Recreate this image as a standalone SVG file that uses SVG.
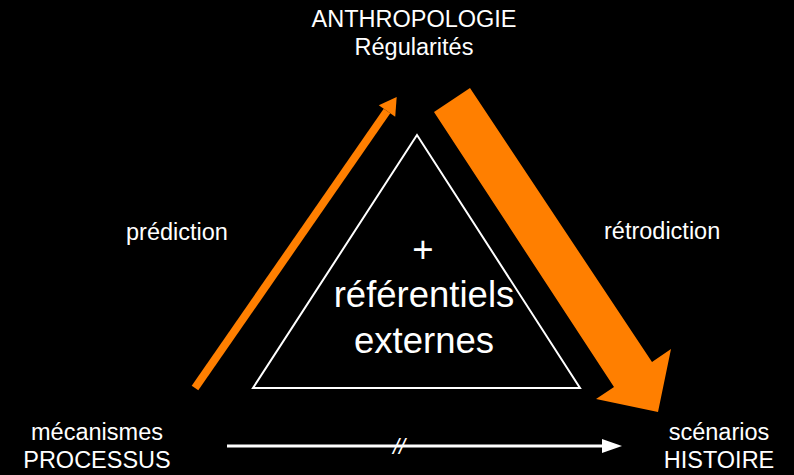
<svg xmlns="http://www.w3.org/2000/svg" width="794" height="475" viewBox="0 0 794 475">
  <style>
    text { font-family: "Liberation Sans", Arial, Helvetica, sans-serif; fill: #ffffff; text-anchor: middle; }
    .lbl { font-size: 23.5px; }
    .big { font-size: 36.5px; }
  </style>
  <defs>
    <marker id="headOrange" markerUnits="userSpaceOnUse" markerWidth="20" markerHeight="22" refX="0" refY="10" orient="auto" viewBox="0 0 20 20" overflow="visible">
      <path d="M0,0 L17,10 L0,20 Z" fill="#ff7f00"/>
    </marker>
    <marker id="headWhite" markerUnits="userSpaceOnUse" markerWidth="22" markerHeight="16" refX="0" refY="8" orient="auto" viewBox="0 0 22 16" overflow="visible">
      <path d="M0,1 L20,8 L0,15 Z" fill="#ffffff"/>
    </marker>
  </defs>
  <rect x="0" y="0" width="794" height="475" fill="#000000"/>

  <g id="node-anthropologie">
    <text class="lbl" x="414" y="27">ANTHROPOLOGIE</text>
    <text class="lbl" x="414" y="55">Régularités</text>
  </g>
  <g id="node-mecanismes">
    <text class="lbl" x="97" y="440">mécanismes</text>
    <text class="lbl" x="97" y="468">PROCESSUS</text>
  </g>
  <g id="node-scenarios">
    <text class="lbl" x="719" y="440">scénarios</text>
    <text class="lbl" x="719" y="468">HISTOIRE</text>
  </g>
  <g id="node-referentiels">
    <polygon points="417,135 253,388 580,388" fill="none" stroke="#ffffff" stroke-width="2"/>
    <text class="big" x="423" y="262">+</text>
    <text class="big" x="424" y="307">référentiels</text>
    <text class="big" x="424" y="353">externes</text>
  </g>

  <g id="connectors">
    <line x1="195" y1="388" x2="387" y2="111" stroke="#ff7f00" stroke-width="8" marker-end="url(#headOrange)"/>
    <polygon points="434,112 470,88 652,362 671,349 658,412 596,399 614,387" fill="#ff7f00"/>
    <line x1="227" y1="446" x2="602" y2="446" stroke="#ffffff" stroke-width="3" marker-end="url(#headWhite)"/>
    <text class="lbl" x="126" y="240" style="text-anchor:start">prédiction</text>
    <text class="lbl" x="604" y="239" style="text-anchor:start">rétrodiction</text>
    <text x="399" y="454" style="font-size:22px;font-style:italic">//</text>
  </g>
</svg>
